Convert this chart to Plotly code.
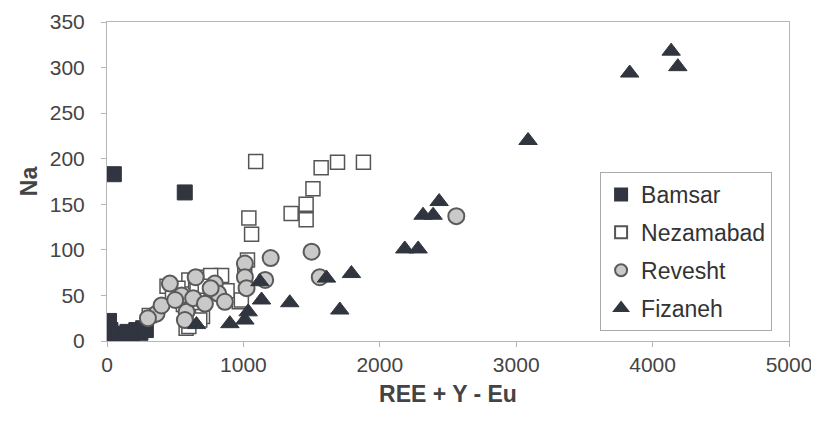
import plotly.graph_objects as go

# Bamsar (filled squares)
bamsar_x = [50, 570, 15, 25, 45, 85, 120, 150, 185, 215, 245, 265, 285]
bamsar_y = [183, 163, 22, 12, 5, 8, 3, 10, 6, 12, 9, 14, 12]

# Nezamabad (open squares)
nezamabad_x = [1090, 1570, 1690, 1880, 1510, 1460, 1350, 1460, 1040, 1060, 1030,
               970, 700, 580, 310, 440, 600, 700, 840, 760, 650, 985, 680, 600,
               520, 560, 480, 660, 720, 880, 1010]
nezamabad_y = [197, 190, 196, 196, 167, 150, 140, 133, 135, 117, 89,
               43, 27, 14, 28, 60, 67, 70, 72, 72, 65, 45, 23, 16,
               58, 40, 50, 55, 60, 55, 80]

# Revesht (grey circles)
revesht_x = [363, 400, 461, 547, 583, 571, 632, 718, 791, 815, 864, 1011, 1011,
             1023, 1200, 1160, 1500, 1560, 2561, 300, 650, 760, 500]
revesht_y = [30, 39, 63, 50, 32, 23, 47, 41, 63, 52, 43, 85, 70,
             58, 91, 67, 98, 70, 137, 25, 70, 58, 45]

# Fizaneh (filled triangles)
fizaneh_x = [656, 901, 1011, 1035, 1133, 1121, 1340, 1609, 1792, 1707, 2183, 2281,
             2317, 2391, 2435, 3087, 3832, 4136, 4185]
fizaneh_y = [18, 19, 23, 32, 45, 65, 42, 69, 74, 34, 101, 101,
             138, 138, 153, 220, 294, 318, 301]

x_ticks = [0, 1000, 2000, 3000, 4000, 5000]
y_ticks = [0, 50, 100, 150, 200, 250, 300, 350]

DARK = "#30353f"
FONT = "Liberation Sans, Arial, sans-serif"

fig = go.Figure()
fig.add_trace(go.Scatter(
    x=bamsar_x, y=bamsar_y, mode="markers", name="Bamsar", legendgroup="a",
    marker=dict(symbol="square", size=15, color=DARK, line=dict(color=DARK, width=1))))
fig.add_trace(go.Scatter(
    x=nezamabad_x, y=nezamabad_y, mode="markers", name="Nezamabad", legendgroup="b",
    marker=dict(symbol="square", size=14, color="white", line=dict(color="#555555", width=1.5))))
fig.add_trace(go.Scatter(
    x=revesht_x, y=revesht_y, mode="markers", name="Revesht", legendgroup="c",
    marker=dict(symbol="circle", size=16, color="#c9c9c9", line=dict(color="#5a5a5a", width=2))))
fig.add_trace(go.Scatter(
    x=fizaneh_x, y=fizaneh_y, mode="markers", name="Fizaneh", legendgroup="d",
    marker=dict(symbol="triangle-up", size=16, color=DARK, line=dict(color=DARK, width=1))))

fig.update_layout(
    width=819, height=430,
    margin=dict(l=99, r=38, t=14, b=97, autoexpand=False),
    paper_bgcolor="white", plot_bgcolor="white",
    font=dict(family=FONT, color="#444444"),
    showlegend=True,
    legend=dict(
        x=0.723, y=0.53, xanchor="left", yanchor="top",
        bgcolor="white", bordercolor="#aaaaaa", borderwidth=1,
        font=dict(size=23, color="#333333", family=FONT),
        tracegroupgap=5, itemsizing="constant", itemwidth=30,
    ),
    xaxis=dict(
        range=[0, 5000], tickvals=x_ticks, ticktext=[str(v) for v in x_ticks],
        showgrid=False, zeroline=False, showline=True, mirror=True, automargin=False,
        linecolor="#b5b5b5", linewidth=1, ticks="outside", ticklen=5, tickcolor="#b5b5b5",
        tickfont=dict(size=21, color="#444444"),
        title=dict(text="<b>REE + Y - Eu</b>", font=dict(size=23, color="#444444"), standoff=10),
    ),
    yaxis=dict(
        range=[0, 350], tickvals=y_ticks, ticktext=[str(v) for v in y_ticks],
        showgrid=False, zeroline=False, showline=True, mirror=True, automargin=False,
        linecolor="#b5b5b5", linewidth=1, ticks="outside", ticklen=5, tickcolor="#b5b5b5",
        tickfont=dict(size=21, color="#444444"), ticklabelstandoff=12,
        title=dict(text="<b>Na</b>", font=dict(size=23, color="#444444"), standoff=5),
    ),
)

fig.write_html("out.html")
